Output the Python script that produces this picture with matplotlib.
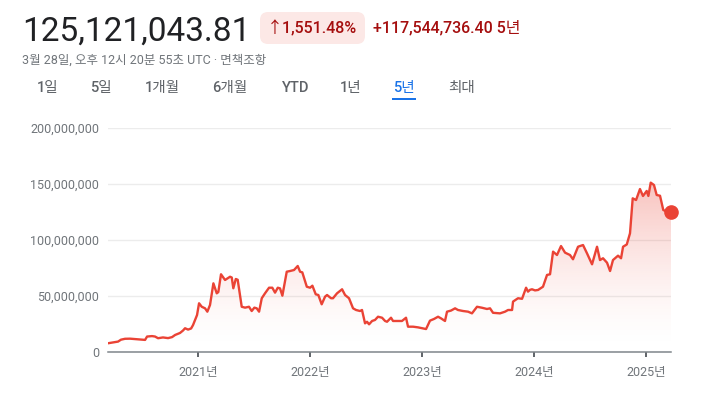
import numpy as np
import matplotlib.pyplot as plt
from matplotlib.patches import FancyBboxPatch, Rectangle
from matplotlib.path import Path
from matplotlib.transforms import IdentityTransform

plt.rcParams['font.family'] = ['Roboto', 'Noto Sans CJK KR', 'DejaVu Sans']

# time in decimal years, price in millions KRW
years = [
    2020.196, 2020.241, 2020.286, 2020.312, 2020.348, 2020.393, 2020.455, 2020.527,
    2020.545, 2020.589, 2020.616, 2020.643, 2020.687, 2020.732, 2020.768, 2020.795,
    2020.839, 2020.866, 2020.884, 2020.911, 2020.938, 2020.955, 2020.973, 2020.991,
    2021.009, 2021.033, 2021.0625, 2021.083, 2021.107, 2021.137, 2021.167, 2021.181,
    2021.205, 2021.241, 2021.286, 2021.301, 2021.315, 2021.337, 2021.354, 2021.390,
    2021.420, 2021.455, 2021.479, 2021.503, 2021.524, 2021.545, 2021.569, 2021.598,
    2021.634, 2021.663, 2021.6875, 2021.712, 2021.732, 2021.753, 2021.792, 2021.821,
    2021.857, 2021.890, 2021.911, 2021.931, 2021.971, 2022.0, 2022.021, 2022.051,
    2022.074, 2022.104, 2022.134, 2022.152, 2022.1875, 2022.205, 2022.241, 2022.286,
    2022.3125, 2022.348, 2022.384, 2022.411, 2022.446, 2022.464, 2022.491, 2022.509,
    2022.527, 2022.554, 2022.580, 2022.607, 2022.643, 2022.670, 2022.6875, 2022.723,
    2022.741, 2022.777, 2022.821, 2022.857, 2022.875, 2022.920, 2022.964, 2023.009,
    2023.036, 2023.071, 2023.107, 2023.143, 2023.170, 2023.205, 2023.223, 2023.259,
    2023.295, 2023.321, 2023.366, 2023.411, 2023.446, 2023.491, 2023.536, 2023.580,
    2023.607, 2023.634, 2023.696, 2023.741, 2023.768, 2023.804, 2023.8125, 2023.857,
    2023.893, 2023.929, 2023.946, 2023.964, 2023.982, 2024.009, 2024.036, 2024.080,
    2024.116, 2024.143, 2024.170, 2024.205, 2024.241, 2024.277, 2024.321, 2024.348,
    2024.393, 2024.4375, 2024.473, 2024.518, 2024.5625, 2024.589, 2024.616, 2024.652,
    2024.679, 2024.705, 2024.750, 2024.777, 2024.795, 2024.828, 2024.857, 2024.881,
    2024.911, 2024.946, 2024.973, 2025.006, 2025.021, 2025.042, 2025.071, 2025.095,
    2025.125, 2025.154, 2025.185, 2025.223,
]
price_m = [
    7.8, 8.5, 9.3, 11.0, 11.8, 11.9, 11.4, 10.8,
    13.8, 14.2, 13.8, 12.3, 13.0, 12.4, 13.3, 15.2,
    17.0, 19.2, 21.2, 20.0, 21.0, 24.0, 28.5, 33.0,
    43.5, 40.4, 39.0, 36.0, 42.0, 61.3, 52.4, 53.5,
    69.4, 64.3, 67.2, 66.5, 56.9, 65.2, 64.5, 40.4,
    39.6, 40.4, 36.6, 39.6, 39.0, 36.0, 48.0, 52.4,
    57.4, 57.4, 53.0, 57.4, 56.8, 50.3, 71.7, 72.3,
    73.2, 76.8, 71.7, 71.1, 58.3, 57.4, 59.2, 51.5,
    50.9, 42.6, 49.4, 50.9, 48.0, 48.0, 52.4, 56.0,
    50.9, 48.0, 39.0, 37.5, 36.6, 37.5, 25.6, 27.0,
    24.7, 27.7, 28.6, 31.5, 30.6, 27.7, 27.0, 30.6,
    27.7, 27.7, 27.7, 30.6, 22.6, 22.6, 22.0, 21.1,
    20.5, 28.0, 29.5, 31.5, 30.0, 27.7, 36.0, 37.0,
    39.0, 37.5, 36.6, 36.0, 34.5, 40.4, 39.5, 38.4,
    39.0, 35.0, 34.5, 36.0, 37.5, 37.5, 45.0, 48.0,
    47.5, 57.4, 53.9, 55.5, 56.0, 55.0, 55.4, 58.3,
    68.8, 69.4, 89.6, 86.6, 94.6, 88.7, 86.6, 82.8,
    94.0, 95.5, 88.1, 78.3, 94.0, 82.1, 83.7, 79.7,
    72.3, 82.1, 86.0, 83.7, 94.0, 96.0, 106.0, 137.2,
    135.7, 145.5, 139.3, 143.8, 139.3, 151.2, 149.1, 140.2,
    139.5, 126.8, 125.3, 125.121,
]
y_ticks = [0, 50e6, 100e6, 150e6, 200e6]
x_ticks = [2021, 2022, 2023, 2024, 2025]
tabs = ['1일', '5일', '1개월', '6개월', 'YTD', '1년', '5년', '최대']
tab_x = [48, 101, 162, 230, 296, 351, 404, 462]

t = np.array(years)
v = np.array(price_m) * 1e6

red = '#ea4335'
W, H = 707, 398
fig = plt.figure(figsize=(W / 100, H / 100), dpi=100)

def fx(x):
    return x / W

def fy(y):
    return 1 - y / H

ax = fig.add_axes([fx(108), fy(352), fx(671) - fx(108), (352 - 128) / H])
ax.set_xlim(2020.196, 2025.223)
ax.set_ylim(0, 200e6)

# gradient fill under the line
verts = np.column_stack([np.r_[t, t[-1], t[0]], np.r_[v, 0, 0]])
clip = Path(verts)
yy = np.linspace(0, 1, 300)
alpha = np.clip(0.32 * (yy * 200 / 150) ** 1.6, 0, 0.45)
grad = np.zeros((300, 2, 4))
grad[..., 0] = 234 / 255
grad[..., 1] = 67 / 255
grad[..., 2] = 53 / 255
grad[..., 3] = alpha[:, None]
im = ax.imshow(grad, extent=[t[0], t[-1], 0, 200e6], origin='lower',
               aspect='auto', zorder=1, interpolation='bilinear')
im.set_clip_path(clip, transform=ax.transData)

ax.plot(t, v, color=red, linewidth=1.7, zorder=3, solid_joinstyle='round')
ax.plot(t[-1], v[-1], 'o', color=red, markersize=9.5, zorder=4, clip_on=False)

for s in ['top', 'right', 'left']:
    ax.spines[s].set_visible(False)
ax.spines['bottom'].set_color('#80868b')
ax.spines['bottom'].set_linewidth(1.1)

ax.set_yticks(y_ticks)
ax.set_yticklabels([f'{int(y):,}' for y in y_ticks])
ax.yaxis.grid(True, color='#ececec', linewidth=1)
ax.set_axisbelow(True)
ax.tick_params(axis='y', length=0, pad=6.5, labelsize=9, labelcolor='#70757a')

ax.set_xticks(x_ticks)
ax.set_xticklabels([f'{y}년' for y in x_ticks])
ax.tick_params(axis='x', length=3.5, width=1.4, color='#5f6368', pad=6.5,
               labelsize=9, labelcolor='#70757a')

# header
fig.text(fx(22), fy(41), '125,121,043.81', fontsize=24, color='#202124',
         va='baseline')
badge = FancyBboxPatch((260, H - 44), 105, 32,
                       boxstyle='round,pad=0,rounding_size=8',
                       transform=IdentityTransform(), facecolor='#fce8e6',
                       edgecolor='none')
fig.add_artist(badge)
fig.text(fx(312), fy(28), '↑1,551.48%', fontsize=11.5, color='#a50e0e',
         ha='center', va='center', fontweight='medium')
fig.text(fx(373), fy(28), '+117,544,736.40 5년', fontsize=11.5,
         color='#a50e0e', ha='left', va='center', fontweight='medium')
fig.text(fx(22), fy(60), '3월 28일, 오후 12시 20분 55초 UTC · 면책조항',
         fontsize=9, color='#70757a', ha='left', va='center')

for label, x in zip(tabs, tab_x):
    c = '#1a73e8' if label == '5년' else '#5f6368'
    fig.text(fx(x), fy(88), label, fontsize=10.5, color=c, ha='center',
             va='center', fontweight='medium')
fig.add_artist(Rectangle((392, H - 100), 24, 2.5, transform=IdentityTransform(),
                         facecolor='#1a73e8', edgecolor='none'))

fig.savefig('out.png', dpi=100)
